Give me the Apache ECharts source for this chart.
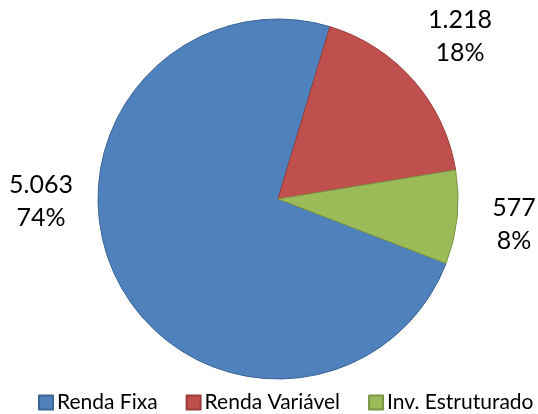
<!DOCTYPE html>
<html>
<head>
<meta charset="utf-8">
<script src="https://cdn.jsdelivr.net/npm/echarts@6/dist/echarts.min.js"></script>
<style>
  html, body { margin: 0; padding: 0; background: #fff; }
  #main { width: 538px; height: 414px; }
</style>
</head>
<body>
<div id="main"></div>
<script>
// dados
const categorias = ['Renda Fixa', 'Renda Variável', 'Inv. Estruturado'];
const valores = [5063, 1218, 577];
const cores = ['#4F81BD', '#C0504D', '#9BBB59'];
const bordas = ['#3A6595', '#9B3C3A', '#7A9545'];

// posição dos rótulos (como no gráfico original)
const posRotulos = [[41, 201], [460, 36], [514, 224]];

const fmt = v => v.toLocaleString('pt-BR');

const chart = echarts.init(document.getElementById('main'));
chart.setOption({
  animation: false,
  textStyle: { fontFamily: 'Lato, "Open Sans", sans-serif' },
  legend: {
    top: 392,
    left: 38,
    padding: 0,
    itemWidth: 14,
    itemHeight: 14,
    itemGap: 28,
    icon: 'rect',
    textStyle: { fontSize: 21, color: '#000', padding: [0, 0, 0, -1] },
    data: categorias
  },
  series: [{
    type: 'pie',
    center: [278, 199],
    radius: 180,
    startAngle: -21,
    clockwise: true,
    data: categorias.map((c, i) => ({
      name: c,
      value: valores[i],
      itemStyle: { color: cores[i], borderColor: bordas[i], borderWidth: 1 }
    })),
    label: {
      show: true,
      position: 'outside',
      formatter: p => fmt(p.value) + '\n' + Math.round(p.percent) + '%',
      fontSize: 25,
      lineHeight: 33,
      color: '#000',
      align: 'center',
      overflow: 'none'
    },
    labelLine: { show: false },
    labelLayout: p => ({
      x: posRotulos[p.dataIndex][0],
      y: posRotulos[p.dataIndex][1],
      align: 'center',
      verticalAlign: 'middle'
    }),
    emphasis: { disabled: true }
  }]
});
</script>
</body>
</html>
